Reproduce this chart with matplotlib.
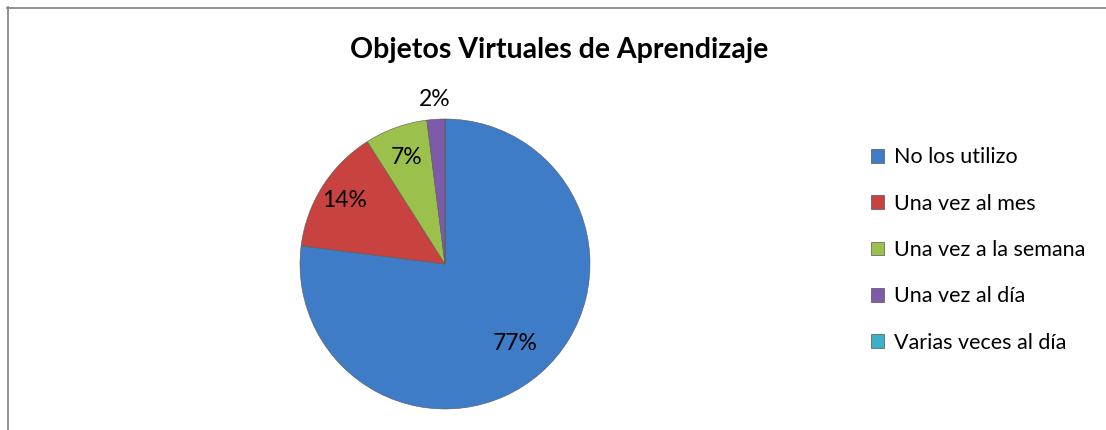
import numpy as np
import matplotlib.pyplot as plt
from matplotlib.lines import Line2D
from matplotlib.patches import Patch

categorias = ["No los utilizo", "Una vez al mes", "Una vez a la semana",
              "Una vez al día", "Varias veces al día"]
valores = [77, 14, 7, 2, 0]
colores = ["#3F7CC8", "#C8433F", "#9CC04C", "#7E5BA8", "#3EAFC8"]
titulo = "Objetos Virtuales de Aprendizaje"

plt.rcParams['font.family'] = ['Lato', 'DejaVu Sans']

W, H = 1106, 430
fig = plt.figure(figsize=(W / 100, H / 100), dpi=100)

# pie axes: center (445, 264) px, radius 145 px
cx, cy, r = 445, 264, 145
ax = fig.add_axes([(cx - r) / W, (H - cy - r) / H, 2 * r / W, 2 * r / H])
wedges, _ = ax.pie(valores, colors=colores, startangle=90, counterclock=False,
                   radius=1, wedgeprops=dict(edgecolor="#5a5a5a", linewidth=0.4))
ax.set_xlim(-1, 1)
ax.set_ylim(-1, 1)
ax.set_aspect('equal')
ax.axis('off')

# percentage labels
dist = [0.73, 0.82, 0.78, 1.14]
for w, v, d in zip(wedges, valores, dist):
    ang = np.deg2rad((w.theta1 + w.theta2) / 2)
    ax.text(d * np.cos(ang), d * np.sin(ang), f"{v}%", ha='center', va='center',
            fontsize=16.5, color='black')

fig.text(559 / W, 1 - 50 / H, titulo, ha='center', va='center',
         fontsize=20.5, fontweight='bold')

handles = [Patch(facecolor=c, edgecolor='#555555', linewidth=0.5) for c in colores]
fig.legend(handles, categorias, loc='center left',
           bbox_to_anchor=(852 / W, 1 - 250 / H), frameon=False,
           fontsize=15.5, labelspacing=1.22, handlelength=0.6, handleheight=0.6,
           handletextpad=0.45)

# outer border (top and left visible)
fig.add_artist(Line2D([7 / W, 1], [1 - 7.5 / H, 1 - 7.5 / H], color='#888888', lw=1.3))
fig.add_artist(Line2D([7.5 / W, 7.5 / W], [0, 1 - 7 / H], color='#888888', lw=1.3))

fig.savefig("out.png", dpi=100)
